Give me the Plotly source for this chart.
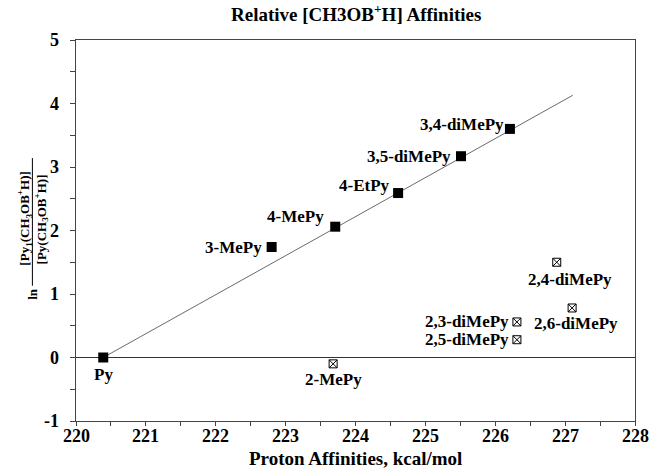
import plotly.graph_objects as go

# ---- data ----
fit_names = ["Py", "3-MePy", "4-MePy", "4-EtPy", "3,5-diMePy", "3,4-diMePy"]
fit_pa = [220.39, 222.80, 223.71, 224.61, 225.51, 226.21]
fit_lnk = [0.00, 1.74, 2.06, 2.59, 3.17, 3.60]

ortho_names = ["2-MePy", "2,3-diMePy", "2,5-diMePy", "2,4-diMePy", "2,6-diMePy"]
ortho_pa = [223.68, 226.31, 226.31, 226.88, 227.10]
ortho_lnk = [-0.10, 0.56, 0.28, 1.50, 0.78]

line_x = [220.39, 227.11]
line_y = [0.00, 4.13]

x_ticks = [220, 221, 222, 223, 224, 225, 226, 227, 228]
y_ticks = [-1, 0, 1, 2, 3, 4, 5]

FONT = "Liberation Serif"

# label placement: (xanchor, yanchor, xshift, yshift)
fit_place = {
    "Py": ("center", "top", 0, -5),
    "3-MePy": ("right", "middle", -8, 0),
    "4-MePy": ("right", "middle", -9, 10),
    "4-EtPy": ("right", "middle", -6, 8),
    "3,5-diMePy": ("right", "middle", -8, 0),
    "3,4-diMePy": ("right", "middle", -4, 4),
}
ortho_place = {
    "2-MePy": ("center", "top", 0, -4),
    "2,3-diMePy": ("right", "middle", -6, 0),
    "2,5-diMePy": ("right", "middle", -6, 0),
    "2,4-diMePy": ("center", "top", 13, -6),
    "2,6-diMePy": ("center", "top", 4, -4),
}

fig = go.Figure()
fig.add_trace(go.Scatter(x=line_x, y=line_y, mode="lines",
                         line=dict(color="#444444", width=0.8),
                         hoverinfo="skip", showlegend=False))
fig.add_trace(go.Scatter(x=fit_pa, y=fit_lnk, mode="markers",
                         marker=dict(symbol="square", size=10, color="black"),
                         showlegend=False))
fig.add_trace(go.Scatter(x=ortho_pa, y=ortho_lnk, mode="markers",
                         marker=dict(symbol="square-x-open", size=8, color="black",
                                     line=dict(width=1, color="black")),
                         showlegend=False))

annots = []
for names, xs, ys, place in ((fit_names, fit_pa, fit_lnk, fit_place),
                             (ortho_names, ortho_pa, ortho_lnk, ortho_place)):
    for n, xv, yv in zip(names, xs, ys):
        xa, ya, xs_, ys_ = place[n]
        annots.append(dict(x=xv, y=yv, xref="x", yref="y", text="<b>%s</b>" % n,
                           showarrow=False, xanchor=xa, yanchor=ya, xshift=xs_, yshift=ys_,
                           font=dict(family=FONT, size=17, color="black")))

# bold tick labels
tick_font = dict(family=FONT, size=18, color="black", weight="bold")
for v in x_ticks:
    annots.append(dict(x=v, y=0, xref="x", yref="paper", text="<b>%d</b>" % v,
                       showarrow=False, xanchor="center", yanchor="top", yshift=-4,
                       borderpad=0, font=tick_font))
for v in y_ticks:
    annots.append(dict(x=0, y=v, xref="paper", yref="y", text="<b>%d</b>" % v,
                       showarrow=False, xanchor="right", yanchor="middle", xshift=-15,
                       font=tick_font))

# x-axis title
annots.append(dict(x=0.5, y=-49 / 381, xref="paper", yref="paper", showarrow=False,
                   text="<b>Proton Affinities, kcal/mol</b>", xanchor="center",
                   yanchor="bottom", yshift=0, borderpad=0,
                   font=dict(family=FONT, size=19, color="black")))

# y-axis title as a rotated fraction
yt_font = dict(family=FONT, size=13, color="black")
annots.append(dict(x=-0.092, y=0.53, xref="paper", yref="paper", showarrow=False,
                   text="<b>[Py<sub>1</sub>(CH<sub>3</sub>OB<sup>+</sup>H)]</b>", textangle=-90,
                   xanchor="center", yanchor="middle", font=yt_font))
annots.append(dict(x=-0.062, y=0.53, xref="paper", yref="paper", showarrow=False,
                   text="<b>[Py(CH<sub>3</sub>OB<sup>+</sup>H)]</b>", textangle=-90,
                   xanchor="center", yanchor="middle", font=yt_font))
annots.append(dict(x=-0.078, y=0.335, xref="paper", yref="paper", showarrow=False,
                   text="<b>ln</b>", textangle=-90,
                   xanchor="center", yanchor="middle", font=yt_font))

fig.update_layout(
    width=650, height=470,
    margin=dict(l=76, r=15, t=40, b=49),
    paper_bgcolor="white", plot_bgcolor="white",
    title=dict(text="<b>Relative [CH3OB<sup>+</sup>H] Affinities</b>", x=0.548, xanchor="center",
               y=0.97, yanchor="middle",
               font=dict(family=FONT, size=19, color="black")),
    annotations=annots,
    shapes=[dict(type="line", xref="paper", yref="paper", x0=-0.078, x1=-0.078,
                 y0=0.355, y1=0.69, line=dict(color="black", width=1))],
    xaxis=dict(range=[220, 228], tickvals=x_ticks, showticklabels=False,
               ticks="outside", ticklen=4, automargin=False,
               tickcolor="#444444", showgrid=False, zeroline=False,
               showline=True, linecolor="#444444", linewidth=1, mirror=True,
               minor=dict(dtick=0.5, ticks="outside", ticklen=4, tickcolor="#444444")),
    yaxis=dict(range=[-1, 5], tickvals=y_ticks, showticklabels=False,
               ticks="outside", ticklen=5, automargin=False,
               tickcolor="#444444", showgrid=False,
               zeroline=True, zerolinecolor="#333333", zerolinewidth=1,
               showline=True, linecolor="#444444", linewidth=1, mirror=True,
               minor=dict(dtick=0.5, ticks="outside", ticklen=5, tickcolor="#444444")),
)

fig.write_html("out.html")
